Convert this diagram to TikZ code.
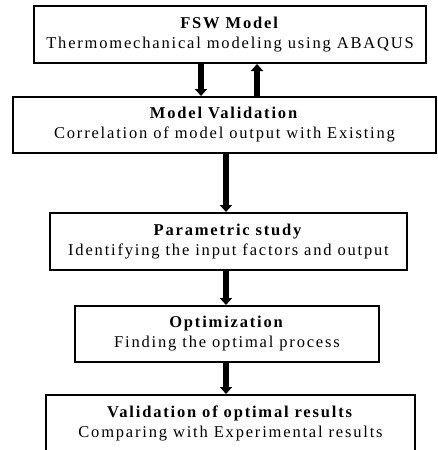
\documentclass[tikz,border=0pt]{standalone}
\usepackage{fontspec}
\setmainfont[LetterSpace=11]{Liberation Serif}
\usepackage{tikz}
\usetikzlibrary{arrows.meta}

\tikzset{
  stepbox/.style={draw, line width=2pt, align=center, inner sep=0pt,
    font=\fontsize{16.5}{20}\selectfont},
  flow/.style={line width=5.5pt, -{Triangle[width=12pt,length=7pt]}}
}

\begin{document}
\begin{tikzpicture}[x=1pt,y=1pt]
\useasboundingbox (0,0) rectangle (437,-450);
\node (fsw) [stepbox, minimum width=392pt, minimum height=57pt] at (230,-34.5)
  {\textbf{FSW Model}\\Thermomechanical modeling using ABAQUS};
\node (valid) [stepbox, minimum width=423pt, minimum height=56pt] at (224.5,-125)
  {\textbf{Model Validation}\\Correlation of model output with Existing};
\node (param) [stepbox, minimum width=357pt, minimum height=57pt] at (228.5,-241.5)
  {\textbf{Parametric study}\\Identifying the input factors and output};
\node (optim) [stepbox, minimum width=304pt, minimum height=56pt] at (227,-334)
  {\textbf{Optimization}\\Finding the optimal process};
\node (result) [stepbox, minimum width=369pt, minimum height=56pt] at (230.5,-423)
  {\textbf{Validation of optimal results}\\Comparing with Experimental results};
\coordinate (dn) at (201,0);
\coordinate (up) at (257,0);
\coordinate (mid) at (226,0);
\draw [flow] (fsw.south -| dn) -- (valid.north -| dn);
\draw [flow] (valid.north -| up) -- (fsw.south -| up);
\draw [flow] (valid.south -| mid) -- (param.north -| mid);
\draw [flow] (param.south -| mid) -- (optim.north -| mid);
\draw [flow] (optim.south -| mid) -- (result.north -| mid);
\end{tikzpicture}
\end{document}
